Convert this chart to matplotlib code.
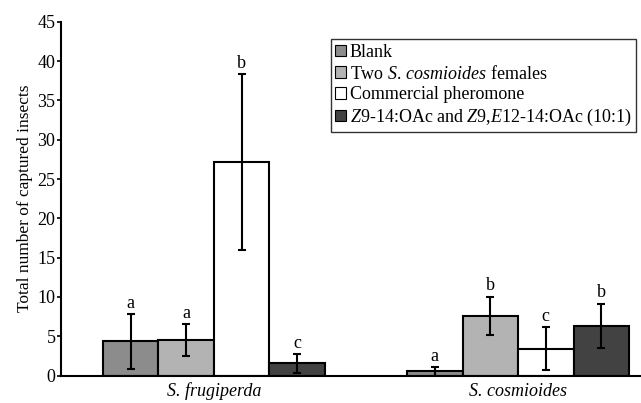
import matplotlib
matplotlib.use("Agg")
import matplotlib.pyplot as plt
import numpy as np

plt.rcParams['font.family'] = ['Liberation Serif', 'DejaVu Serif']
plt.rcParams['mathtext.fontset'] = 'custom'
plt.rcParams['mathtext.rm'] = 'Liberation Serif'
plt.rcParams['mathtext.it'] = 'Liberation Serif:italic'

categories = ["S. frugiperda", "S. cosmioides"]
series_names = ["Blank",
                r"Two $\mathit{S.}\,\mathit{cosmioides}$ females",
                "Commercial pheromone",
                r"$\mathit{Z}$9-14:OAc and $\mathit{Z}$9,$\mathit{E}$12-14:OAc (10:1)"]
blank = [4.35, 0.55]
blank_err = [3.5, 0.55]
two_females = [4.55, 7.6]
two_females_err = [2.0, 2.45]
commercial = [27.15, 3.4]
commercial_err = [11.2, 2.75]
blend = [1.55, 6.3]
blend_err = [1.2, 2.85]
letters = [["a", "a", "b", "c"], ["a", "b", "c", "b"]]

values = [blank, two_females, commercial, blend]
errors = [blank_err, two_females_err, commercial_err, blend_err]
colors = ["#8c8c8c", "#b3b3b3", "#ffffff", "#424242"]

fig = plt.figure(figsize=(6.41, 4.03), dpi=100)
ax = fig.add_axes([0.0952, 0.068, 0.9048, 0.878])

x = np.arange(len(categories))
w = 0.1824
for i, (vals, errs, col) in enumerate(zip(values, errors, colors)):
    pos = x + (i - 1.5) * w
    ax.bar(pos, vals, width=w, color=col, edgecolor='black', linewidth=1.5,
           label=series_names[i], zorder=2)
    ax.errorbar(pos, vals, yerr=errs, fmt='none', ecolor='black',
                elinewidth=1.5, capsize=3, capthick=1.5, zorder=3)
    for j in range(len(categories)):
        ax.annotate(letters[j][i], (pos[j], vals[j] + errs[j]),
                    xytext=(0, 4.5), textcoords='offset points',
                    ha='center', va='baseline', fontsize=13)

ax.set_xlim(-0.502, 1.404)
ax.set_ylim(0, 45)
ax.set_yticks(np.arange(0, 46, 5))
ax.set_xticks(x)
ax.set_xticklabels(categories, style='italic', fontsize=13)
ax.tick_params(axis='x', length=0, pad=5)
ax.tick_params(axis='y', length=3, width=1.2, labelsize=13, pad=1)
for s in ['top', 'right']:
    ax.spines[s].set_visible(False)
ax.spines['left'].set_linewidth(1.5)
ax.spines['bottom'].set_linewidth(1.5)
ax.set_ylabel("Total number of captured insects", fontsize=12.5, labelpad=3)

leg = ax.legend(loc='upper right', bbox_to_anchor=(0.992, 0.95), fontsize=13,
                frameon=True, fancybox=False, edgecolor='black',
                handlelength=0.6, handleheight=0.6, handletextpad=0.2,
                labelspacing=0.2, borderpad=0.25, borderaxespad=0)
leg.get_frame().set_linewidth(1.0)
for h in leg.legend_handles:
    h.set_linewidth(0.8)

fig.savefig("out.png", dpi=100)
